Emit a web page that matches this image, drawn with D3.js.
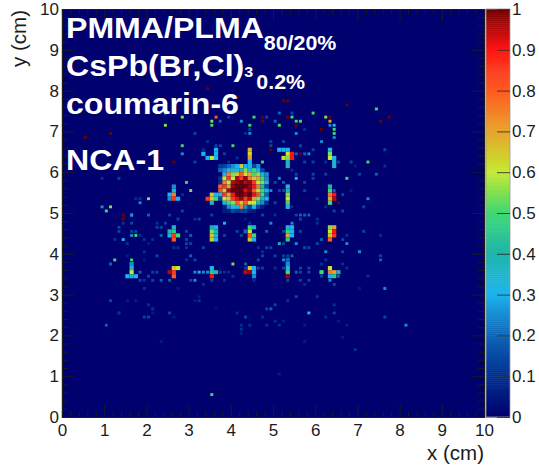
<!DOCTYPE html>
<html>
<head>
<meta charset="utf-8">
<script src="https://cdn.jsdelivr.net/npm/d3@7"></script>
<style>
html, body { margin: 0; padding: 0; background: #fff; }
svg { display: block; }
text { font-family: "Liberation Sans", Arial, sans-serif; }
</style>
</head>
<body>
<div id="viz"></div>
<script>
// Histogram cells over 0-10 cm, everything not listed is empty.
var binsPerAxis = 100;
var axisMax = 10;
// lone hits look narrower than the 0.1 cm grid we index them on
var hitSize = 0.07;

// Colour palette stops
var zStops = [0, 0.1, 0.2, 0.3, 0.4, 0.5, 0.6, 0.7, 0.8, 0.9, 0.96, 1];
var zColors = ["#00006e", "#003090", "#0f66b8", "#1cb4f0", "#1fb5a8", "#3fd873", "#c4ea2e", "#e8a22c", "#ff5a1e", "#ff1414", "#a80808", "#6a0000"];

var xTicks = [0, 1, 2, 3, 4, 5, 6, 7, 8, 9, 10];
var yTicks = [0, 1, 2, 3, 4, 5, 6, 7, 8, 9, 10];
var zTicks = [0, 0.1, 0.2, 0.3, 0.4, 0.5, 0.6, 0.7, 0.8, 0.9, 1];

// The big spot near (4.2, 5.6): columns from bin 37, rows from bin 61 downwards
var beamFirstCol = 37;
var beamTopRow = 61;
var beamRows = [
  [.12, .14, .2, .25, .3, .65, .3, .2, .14, .25, 0, 0],
  [.2, .25, .3, .35, .3, .4, .55, .3, .5, .3, .14, 0],
  [0, .3, .75, .55, .65, .8, .6, .7, .5, .55, .35, .25],
  [.1, .6, .85, .6, .95, .85, .97, .75, .65, .7, .5, .25],
  [.1, .75, .6, .95, .97, 1, .95, .97, .85, .6, .55, .3],
  [.8, .85, .7, .97, 1, 1, 1, .97, .9, .75, .4, .14],
  [.82, .65, .95, 1, 1, 1, .92, .97, .8, .62, .5, .3],
  [.3, .85, .7, .9, 1, 1, .97, 1, .92, .82, .5, .2],
  [.14, .6, .65, .85, .92, .97, .85, .95, .7, .55, .4, .3],
  [0, .3, .5, .55, .8, .65, .8, .6, .6, .4, .25, .1],
  [0, .06, .25, .3, .35, .75, .25, .14, .3, .14, .06, 0],
  [0, .06, .06, .14, .1, .14, .14, .06, .06, 0, 0, 0]
];

// [xBin, yBin, z] for the grid of small spots
var gridSpots = [
  [16,37,.25],[16,36,.35],[16,35,.6],[16,34,.35],[15,34,.3],[17,34,.3],
  [26,36,.65],[26,35,.85],[26,34,.8],[27,36,.6],[25,35,.95],
  [35,36,.3],[35,35,.45],[36,35,.4],[35,34,.9],
  [44,36,.65],[44,35,.97],[43,35,.95],[45,36,.3],[45,35,.3],[45,34,.25],
  [53,38,.2],[53,37,.25],[53,36,.3],[53,35,.5],[53,34,.97],
  [63,36,.6],[63,35,.75],[64,35,.7],[64,34,.45],[65,35,.4],[63,34,.3],[61,35,.5],
  [26,46,.35],[26,45,.45],[25,45,.4],[26,44,.85],[27,44,.5],[25,44,.3],[26,43,.8],
  [35,46,.4],[36,46,.3],[35,45,.55],[36,45,.4],[35,44,.65],[36,44,.35],[35,43,.64],[36,43,.3],
  [44,46,.5],[45,46,.35],[44,45,.6],[43,45,.2],[44,44,.8],[45,44,.5],[44,43,.65],[45,43,.3],
  [53,46,.35],[54,46,.3],[53,45,.5],[54,45,.3],[53,44,.7],[54,44,.3],[53,43,.45],
  [63,46,.55],[64,46,.7],[63,45,.6],[64,45,.9],[63,44,.65],[64,44,.85],[63,43,.8],
  [26,56,.25],[26,55,.35],[26,54,.75],[25,54,.3],[26,53,.85],[25,53,.25],[27,53,.3],
  [35,54,.65],[36,54,.3],[35,53,.65],[34,53,.85],[35,52,.35],[36,53,.5],
  [53,56,.3],[53,55,.4],[53,54,.55],[53,53,.6],[53,52,.5],[53,51,.3],
  [63,56,.4],[63,55,.5],[63,54,.75],[64,54,.9],[63,53,.7],[64,53,.95],[63,52,.5],
  [44,65,.68],[44,64,.62],[44,63,.7],[44,62,.3],[44,61,.3],
  [35,63,.6],[36,63,.3],[36,64,.3],[36,65,.3],[34,63,.3],[33,64,.3],
  [53,65,.3],[53,64,.6],[54,64,.9],[54,63,.9],[53,63,.55],[53,62,.4],[53,61,.35],[52,65,.3],[51,65,.3],[52,63,.62],
  [63,65,.3],[63,64,.55],[63,63,.6],[64,63,.3],[64,61,.35],[64,62,.35]
];

// [xBin, yBin, z] for the lone hits around the grid
var scatterHits = [
  [16,49,.3],[10,50,.5],[20,49,.19],[14,47,.1],[16,47,.14],[13,46,.14],[13,45,.14],[16,45,.14],[17,45,.14],[17,44,.5],[16,44,.25],
  [22,47,.1],[22,46,.14],[23,44,.19],[23,46,.14],[24,47,.14],[18,44,.1],[19,43,.1],[21,43,.1],[20,42,.06],[19,40,.1],[14,43,.3],
  [12,43,.1],[15,42,.1],[12,38,.5],[16,38,.5],[11,37,.19],[15,34,.19],[15,39,.06],[22,39,.14],[19,38,.06],[18,35,.19],[21,35,.14],
  [22,35,.14],[20,34,.14],[21,33,.14],[23,33,.19],[25,33,.19],[18,33,.14],[19,33,.1],[19,31,.1],[11,28,.14],[20,27,.1],[21,26,.1],
  [21,25,.06],[13,25,.1],[25,25,.14],[20,24,.14],[32,28,.1],[25,49,.14],[27,48,.14],[28,50,.14],[31,48,.1],[32,48,.14],[29,45,.14],
  [29,43,.14],[30,44,.19],[29,42,.14],[30,42,.14],[26,41,.1],[27,41,.1],[29,41,.1],[30,39,.19],[29,38,.1],[31,38,.14],[31,35,.25],
  [32,35,.3],[30,33,.14],[31,33,.25],[27,31,.06],[38,47,.3],[49,47,.25],[54,47,.25],[33,35,.25],[34,35,.25],[37,35,.14],[38,35,.1],
  [40,37,.55],[43,37,.19],[43,36,.14],[46,38,.14],[47,39,.14],[51,42,.4],[52,38,.25],[50,39,.14],[46,36,.14],[47,36,.14],[50,36,.1],
  [52,36,.14],[56,33,.14],[58,35,.14],[45,33,.1],[39,35,.1],[40,34,.1],[38,33,.1],[33,32,.1],[35,33,.14],[49,26,.19],[50,27,.14],
  [48,26,.14],[41,25,.1],[43,24,.14],[47,24,.1],[58,25,.3],[55,42,.25],[57,41,.14],[58,41,.14],[48,41,.14],[49,41,.14],[46,41,.1],
  [47,40,.1],[42,44,.14],[41,45,.14],[48,45,.19],[52,45,.14],[50,49,.1],[44,47,.1],[47,49,.14],[35,49,.14],[38,50,.19],[41,50,.14],
  [43,48,.06],[56,49,.19],[58,49,.19],[56,48,.14],[56,45,.14],[38,44,.14],[33,41,.14],[57,49,.19],[60,48,.1],[60,47,.1],[52,42,.14],
  [60,42,.14],[61,43,.19],[66,43,.14],[67,44,.1],[67,42,.25],[62,40,.25],[57,41,.14],[70,40,.25],[66,40,.14],[75,38,.19],[75,39,.14],
  [54,39,.19],[52,39,.14],[53,39,.14],[61,37,.1],[62,38,.1],[56,36,.14],[58,36,.14],[56,35,.14],[55,35,.19],[53,33,.14],[58,33,.14],
  [61,34,.14],[63,33,.25],[65,34,.19],[66,37,.1],[67,36,.1],[72,34,.1],[70,31,.06],[76,31,.25],[64,32,.14],[57,32,.1],[55,29,.14],
  [64,27,.1],[53,28,.1],[60,29,.1],[62,24,.1],[64,25,.14],[71,45,.14],[75,44,.1],[66,50,.14],[64,50,.14],[55,49,.14],
  [81,22,.25],[76,24,.14],[69,16,.1],[57,18,.06],[51,10,.06],[66,19,.06],[67,22,.06],[65,23,.06],[57,22,.06],[50,23,.1],[51,22,.1],[52,23,.06],
  [35,5,.5],[10,22,.19],[13,25,.1],[23,18,.06],[19,24,.14],[26,24,.06],[21,26,.1],[15,28,.06],[17,28,.06],[31,28,.06],[32,29,.06],[36,26,.04],
  [42,22,.1],[42,21,.1],[42,20,.06],[44,22,.1],[48,22,.1],
  [24,71,.55],[28,73,.55],[45,73,.5],[35,72,.55],[35,71,.5],[36,73,.8],[24,74,.25],[44,71,.5],[37,72,.19],[42,72,.25],[28,66,.5],
  [11,51,.55],[20,53,.55],[30,55,.55],[29,57,.5],[9,51,.25],[16,49,.25],[18,52,.25],[33,64,.14],[28,64,.25],[31,62,.14],[9,58,.1],[13,58,.14],
  [17,53,.1],[18,53,.1],[28,54,.1],[44,69,.25],[44,70,.14],[43,69,.1],[40,66,.5],[31,69,.14],[39,73,.14],[48,73,.14],[51,74,.19],
  [50,72,.19],[51,71,.5],[54,74,.14],[54,73,.5],[55,72,.5],[56,72,.5],[55,69,.25],[49,67,.14],[49,66,.14],[52,67,.14],[52,65,.14],
  [47,62,.5],[48,58,.5],[51,58,.25],[52,57,.19],[50,57,.14],[51,55,.14],[49,55,.25],[50,52,.14],[34,67,.1],[33,65,.1],[37,66,.14],[36,66,.14],
  [38,64,.14],[39,62,.1],[41,63,.1],[42,60,.25],[74,75,.5],[59,74,.5],[62,73,.55],[63,72,.7],[64,71,.3],[63,71,.25],[64,70,.5],
  [64,69,.5],[64,68,.25],[61,67,.25],[57,70,.1],[72,62,.5],[76,65,.14],[67,58,.5],[72,53,.25],[74,59,.19],[70,59,.14],[76,61,.1],[68,62,.14],
  [69,61,.06],[68,55,.06],[58,64,.25],[56,66,.14],[55,64,.19],[57,64,.19],[59,65,.14],[65,62,.14],[62,62,.1],[55,58,.3],[55,59,.14],[54,60,.1],
  [57,57,.14],[59,59,.14],[59,58,.14],[62,59,.14],[57,62,.14],[59,62,.14],[57,55,.14],[52,55,.14],[66,54,.14],[64,55,.19],[71,51,.14],[54,51,.1],
  [60,53,.1],[62,51,.1]
];

// Isolated dark red hits
var darkHits = [
  [14,48],[5,68],[11,69],[13,61],[26,62],[14,49],[34,80],[41,78],[47,72],[53,73],[55,71],[53,77],[47,73],[49,65],[56,64],
  [52,77],[67,76],[77,73],[75,72],[63,73],[61,70],[65,52]
];

var labelLines = [
  {main: "PMMA/PLMA", sub: "80/20%"},
  {main: "CsPb(Br,Cl)", sub3: "3", sub: "0.2%"},
  {main: "coumarin-6"},
  {main: "NCA-1"}
];

var width = 539, height = 465;
var svg = d3.select("#viz").append("svg")
    .attr("width", width)
    .attr("height", height);

var x = d3.scaleLinear().domain([0, axisMax]).range([62, 484]);
var y = d3.scaleLinear().domain([0, axisMax]).range([417, 9]);
var zY = d3.scaleLinear().domain([0, 1]).range([417, 9]);
var color = d3.scaleLinear().domain(zStops).range(zColors);

var binW = axisMax / binsPerAxis;

// cells are [xBin, yBin, z, size in cm]
var cells = [];
scatterHits.forEach(function(d) { cells.push([d[0], d[1], d[2], hitSize]); });
darkHits.forEach(function(d) { cells.push([d[0], d[1], 1, hitSize]); });
beamRows.forEach(function(row, r) {
    row.forEach(function(z, c) {
        if (z > 0) cells.push([beamFirstCol + c, beamTopRow - r, z, binW]);
    });
});
gridSpots.forEach(function(d) { cells.push([d[0], d[1], d[2], binW]); });

svg.append("rect")
    .attr("x", x(0)).attr("y", y(axisMax))
    .attr("width", x(axisMax) - x(0)).attr("height", y(0) - y(axisMax))
    .attr("fill", color(0));

svg.append("g").attr("id", "cells").selectAll("rect")
    .data(cells)
  .enter().append("rect")
    .attr("x", function(d) { return x((d[0] + 0.5) * binW - d[3] / 2); })
    .attr("y", function(d) { return y((d[1] + 0.5) * binW + d[3] / 2); })
    .attr("width", function(d) { return x(d[3]) - x(0); })
    .attr("height", function(d) { return y(0) - y(d[3]); })
    .attr("fill", function(d) { return color(d[2]); });

// z bar, one strip per pixel step
var zStrip = d3.range(0, 1, 0.005);
svg.append("g").attr("id", "zbar").selectAll("rect")
    .data(zStrip)
  .enter().append("rect")
    .attr("x", 486)
    .attr("y", function(d) { return zY(d + 0.005); })
    .attr("width", 24)
    .attr("height", zY(0) - zY(0.005) + 0.5)
    .attr("fill", function(d) { return color(d); });

svg.append("rect")
    .attr("x", 486).attr("y", zY(1))
    .attr("width", 24).attr("height", zY(0) - zY(1))
    .attr("fill", "none").attr("stroke", "#9a9a9a").attr("stroke-width", 0.8);

var tickColor = "#1c1c1c";

function style_axis(g) {
    g.select(".domain").attr("stroke", tickColor).attr("stroke-width", 1.2);
    g.selectAll(".tick line").attr("stroke", tickColor).attr("stroke-width", 0.9);
    g.selectAll(".tick text").attr("fill", "#1c1c1c").style("font-size", "17px").style("font-family", "Liberation Sans");
}

var minorX = d3.range(0, 10.01, 0.2).filter(function(d) { return Math.round(d * 5) % 5 != 0; });

// bottom and left carry the labels, top and right only ticks
var xMajor = svg.append("g").attr("transform", "translate(0,417)")
    .call(d3.axisBottom(x).tickValues(xTicks).tickFormat(d3.format("d")).tickSizeInner(-12).tickSizeOuter(0).tickPadding(7));
xMajor.call(style_axis);
xMajor.selectAll(".tick text").attr("y", 7);
svg.append("g").attr("transform", "translate(0,417)")
    .call(d3.axisBottom(x).tickValues(minorX).tickFormat("").tickSize(-6)).call(style_axis);

var yMajor = svg.append("g").attr("transform", "translate(62,0)")
    .call(d3.axisLeft(y).tickValues(yTicks).tickFormat(d3.format("d")).tickSizeInner(-12).tickSizeOuter(0).tickPadding(4));
yMajor.call(style_axis);
yMajor.selectAll(".tick text").attr("x", -3);
svg.append("g").attr("transform", "translate(62,0)")
    .call(d3.axisLeft(y).tickValues(minorX).tickFormat("").tickSize(-6)).call(style_axis);

svg.append("g").attr("transform", "translate(0,9)")
    .call(d3.axisTop(x).tickValues(xTicks).tickFormat("").tickSizeInner(-12).tickSizeOuter(0)).call(style_axis);
svg.append("g").attr("transform", "translate(0,9)")
    .call(d3.axisTop(x).tickValues(minorX).tickFormat("").tickSize(-6)).call(style_axis);

svg.append("g").attr("transform", "translate(484,0)")
    .call(d3.axisRight(y).tickValues(yTicks).tickFormat("").tickSizeInner(-12).tickSizeOuter(0)).call(style_axis);
svg.append("g").attr("transform", "translate(484,0)")
    .call(d3.axisRight(y).tickValues(minorX).tickFormat("").tickSize(-6)).call(style_axis);

// z axis ticks sit inside the bar on its right side
var zAxis = svg.append("g").attr("transform", "translate(510,0)")
    .call(d3.axisRight(zY).tickValues(zTicks).tickFormat(d3.format("~g")).tickSizeInner(-13).tickSizeOuter(0));
zAxis.select(".domain").remove();
zAxis.selectAll(".tick line").attr("stroke", "#333").attr("stroke-width", 0.9);
zAxis.selectAll(".tick text").attr("x", 2).attr("fill", "#1c1c1c").style("font-size", "17px").style("font-family", "Liberation Sans");

svg.append("text")
    .attr("x", 484).attr("y", 460)
    .attr("text-anchor", "end")
    .attr("fill", "#1c1c1c")
    .style("font-size", "20.5px")
    .text("x (cm)");

svg.append("text")
    .attr("transform", "translate(26,10) rotate(-90)")
    .attr("text-anchor", "end")
    .attr("fill", "#1c1c1c")
    .style("font-size", "20.5px")
    .text("y (cm)");

// White labels on top of the map. Original is about 7% wider than Liberation bold.
var labelY = [38, 76, 114, 170];
var labels = svg.append("g").attr("id", "labels");
labelLines.forEach(function(line, i) {
    var t = labels.append("text")
        .attr("transform", "translate(66," + labelY[i] + ") scale(1.07,1)")
        .attr("fill", "#fff")
        .style("font-weight", "bold")
        .style("font-size", "30px")
        .text(line.main);
    if (line.sub3) {
        t.append("tspan").attr("dy", 1).style("font-size", "15px").text(line.sub3);
        t.append("tspan").attr("dx", 3).attr("dy", 12).style("font-size", "20px").text(line.sub);
    } else if (line.sub) {
        t.append("tspan").attr("dy", 12).style("font-size", "20px").text(line.sub);
    }
});
</script>
</body>
</html>
